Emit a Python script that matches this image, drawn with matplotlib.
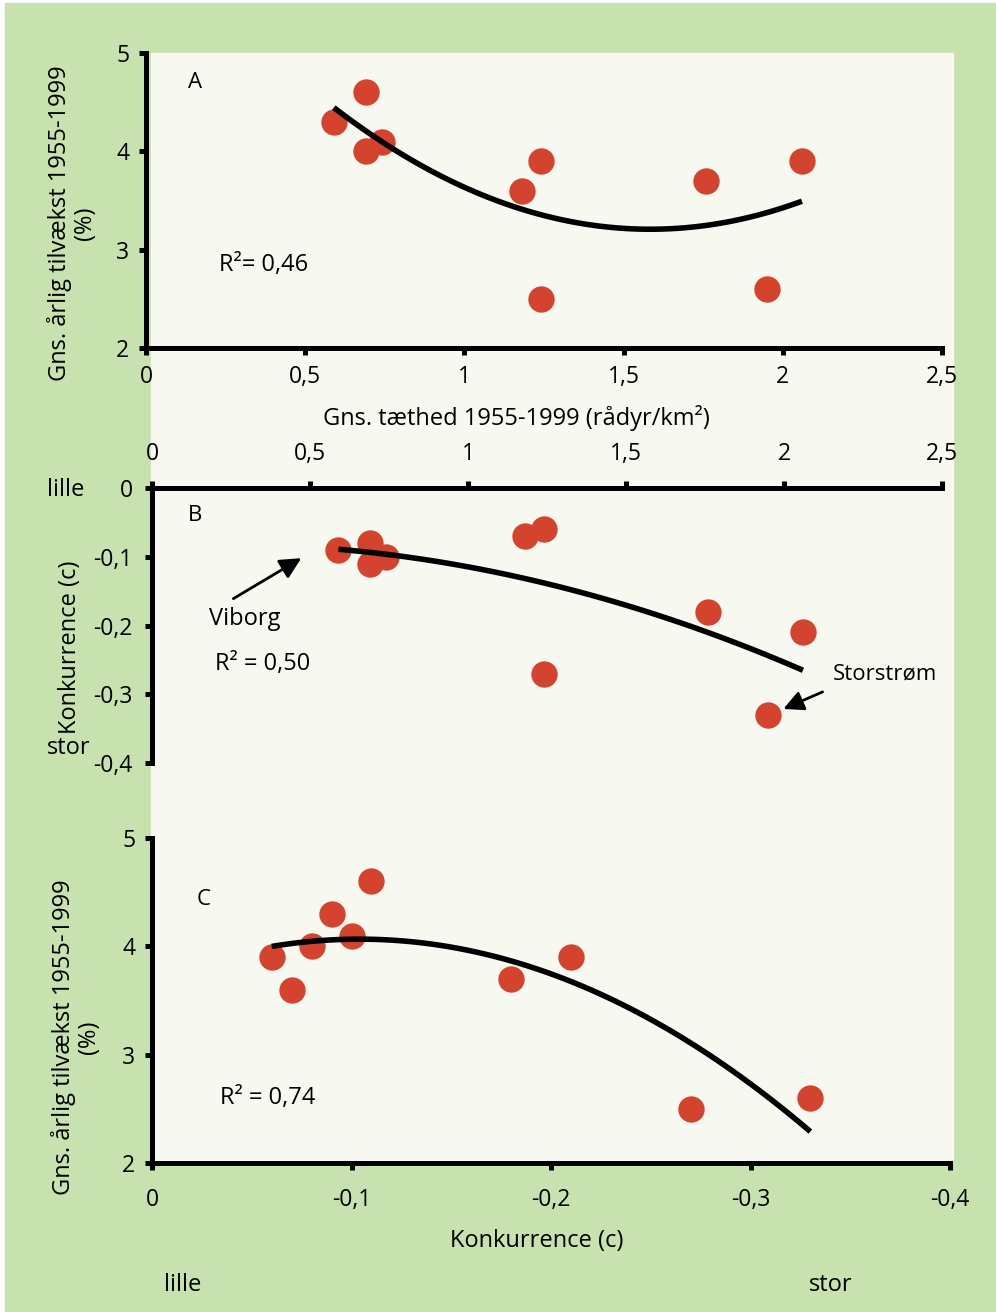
import numpy as np
import matplotlib.pyplot as plt
from matplotlib.patches import Rectangle

plt.rcParams['font.family'] = ['Open Sans', 'DejaVu Sans']
plt.rcParams['axes.unicode_minus'] = False

# ti regioner: gns. taethed, gns. aarlig tilvaekst og konkurrence (c)
taethed = [0.59, 0.69, 0.69, 0.74, 1.18, 1.24, 1.24, 1.76, 1.95, 2.06]
tilvaekst = [4.3, 4.6, 4.0, 4.1, 3.6, 3.9, 2.5, 3.7, 2.6, 3.9]
konkurrence = [-0.09, -0.11, -0.08, -0.10, -0.07, -0.06, -0.27, -0.18, -0.33, -0.21]

r2_tekst = ['R²= 0,46', 'R² = 0,50', 'R² = 0,74']
taethed_ticks = [0, 0.5, 1, 1.5, 2, 2.5]
tilvaekst_ticks = [2, 3, 4, 5]
konk_ticks = [0, -0.1, -0.2, -0.3, -0.4]

GREEN = '#c7e2ae'
CREAM = '#f7f8ef'
RED = '#d3432e'
W, H = 996, 1312
FS = 17      # tekst
TFS = 16.5   # tal paa akserne


def fx(x):
    return x / W


def fy(y):
    return 1 - y / H


def komma(v):
    return ('%g' % v).replace('.', ',')


def style(ax, xpad, ypad):
    for s in ax.spines.values():
        s.set_linewidth(3.6)
    ax.set_facecolor('none')
    ax.tick_params(width=3.6, length=5, labelsize=TFS, direction='out')
    ax.tick_params(axis='x', pad=xpad)
    ax.tick_params(axis='y', pad=ypad)


def trend(ax, x, y):
    c = np.polyfit(x, y, 2)
    xs = np.linspace(min(x), max(x), 100)
    ax.plot(xs, np.polyval(c, xs), color='black', lw=4, zorder=4,
            solid_capstyle='butt')


fig = plt.figure(figsize=(W / 100, H / 100), dpi=100, facecolor='white')
fig.patches.append(Rectangle((fx(5), 0), 1 - fx(5), fy(3), transform=fig.transFigure,
                             color=GREEN, zorder=-3))
fig.patches.append(Rectangle((fx(151), fy(1160)), fx(953 - 151), fy(53) - fy(1160),
                             transform=fig.transFigure, color=CREAM, zorder=-2))

# A
axA = fig.add_axes([fx(146), fy(348), fx(942 - 146), fy(53) - fy(348)])
axA.scatter(taethed, tilvaekst, s=360, color=RED, linewidths=0, zorder=3)
trend(axA, taethed, tilvaekst)
axA.set_xlim(0, 2.5)
axA.set_ylim(2, 5)
axA.set_xticks(taethed_ticks, [komma(v) for v in taethed_ticks])
axA.set_yticks(tilvaekst_ticks, [komma(v) for v in tilvaekst_ticks])
axA.spines[['top', 'right']].set_visible(False)
style(axA, 7, 7)
axA.text(0.053, 0.9, 'A', transform=axA.transAxes, fontsize=16, va='center')
axA.text(0.092, 0.28, r2_tekst[0], transform=axA.transAxes, fontsize=FS, va='center')

# B
axB = fig.add_axes([fx(152), fy(763), fx(942 - 152), fy(488) - fy(763)])
axB.scatter(taethed, konkurrence, s=360, color=RED, linewidths=0, zorder=3)
trend(axB, taethed, konkurrence)
axB.set_xlim(0, 2.5)
axB.set_ylim(-0.4, 0)
axB.xaxis.tick_top()
axB.set_xticks(taethed_ticks, [komma(v) for v in taethed_ticks])
axB.set_yticks(konk_ticks, [komma(v) for v in konk_ticks])
axB.spines[['bottom', 'right']].set_visible(False)
style(axB, 11, 9)
axB.text(0.045, 0.9, 'B', transform=axB.transAxes, fontsize=16, va='center')
axB.text(0.08, 0.36, r2_tekst[1], transform=axB.transAxes, fontsize=FS, va='center')
axB.annotate('', xy=(0.48, -0.10), xytext=(0.25, -0.163),
             arrowprops=dict(arrowstyle='-|>', color='black', lw=2, mutation_scale=32))
axB.text(0.18, -0.19, 'Viborg', fontsize=FS, va='center')
axB.annotate('', xy=(1.99, -0.323), xytext=(2.13, -0.295),
             arrowprops=dict(arrowstyle='-|>', color='black', lw=2, mutation_scale=30))
axB.text(2.155, -0.27, 'Storstrøm', fontsize=16, va='center')

# C
axC = fig.add_axes([fx(152), fy(1163), fx(950 - 152), fy(838) - fy(1163)])
axC.scatter(konkurrence, tilvaekst, s=360, color=RED, linewidths=0, zorder=3)
trend(axC, konkurrence, tilvaekst)
axC.set_xlim(0, -0.4)
axC.set_ylim(2, 5)
axC.set_xticks(konk_ticks, [komma(v) for v in konk_ticks])
axC.set_yticks(tilvaekst_ticks, [komma(v) for v in tilvaekst_ticks])
axC.spines[['top', 'right']].set_visible(False)
style(axC, 13, 7)
axC.text(0.056, 0.81, 'C', transform=axC.transAxes, fontsize=16, va='center')
axC.text(0.085, 0.2, r2_tekst[2], transform=axC.transAxes, fontsize=FS, va='center')

# akse-tekster
ylab = 'Gns. årlig tilvækst 1955-1999\n(%)'
fig.text(fx(72), fy(223), ylab, rotation=90, ha='center', va='center', fontsize=FS,
         multialignment='center', linespacing=1.05)
fig.text(fx(76), fy(1037), ylab, rotation=90, ha='center', va='center', fontsize=FS,
         multialignment='center', linespacing=1.05)
fig.text(fx(70), fy(647), 'Konkurrence (c)', rotation=90, ha='center', va='center',
         fontsize=FS)
fig.text(fx(516), fy(418), 'Gns. tæthed 1955-1999 (rådyr/km²)', ha='center',
         va='center', fontsize=FS)
fig.text(fx(537), fy(1241), 'Konkurrence (c)', ha='center', va='center', fontsize=FS)
fig.text(fx(47), fy(490), 'lille', ha='left', va='center', fontsize=FS)
fig.text(fx(47), fy(748), 'stor', ha='left', va='center', fontsize=FS)
fig.text(fx(164), fy(1285), 'lille', ha='left', va='center', fontsize=FS)
fig.text(fx(809), fy(1285), 'stor', ha='left', va='center', fontsize=FS)

fig.savefig('out.png', dpi=100, facecolor=fig.get_facecolor())
